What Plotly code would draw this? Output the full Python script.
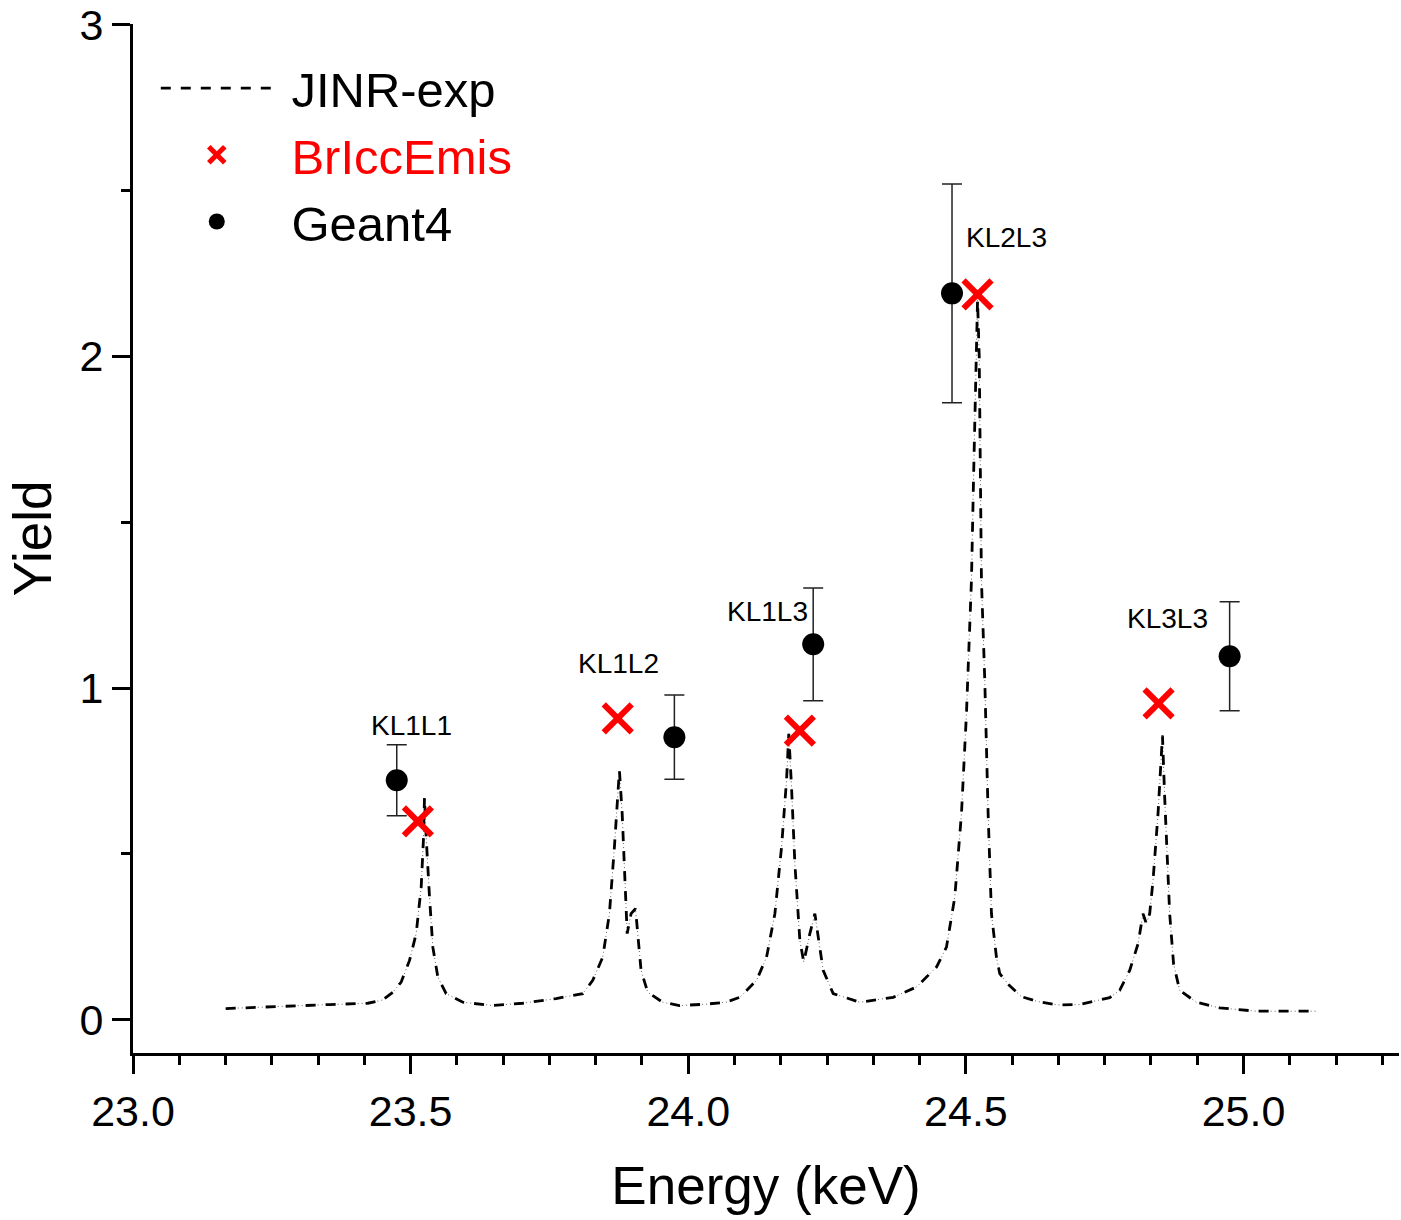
import plotly.graph_objects as go

# ---------------- data ----------------
exp_energy = [23.167, 23.22, 23.286, 23.354, 23.423, 23.450, 23.468, 23.483, 23.498, 23.510,
              23.519, 23.523, 23.525, 23.528, 23.534, 23.540, 23.549, 23.564, 23.594, 23.648,
              23.702, 23.762, 23.810, 23.828, 23.846, 23.858, 23.867, 23.872, 23.876, 23.881,
              23.885, 23.890, 23.897, 23.905, 23.909, 23.915, 23.927, 23.954, 23.984, 24.030,
              24.068, 24.093, 24.123, 24.141, 24.156, 24.168, 24.177, 24.181, 24.186, 24.192,
              24.201, 24.208, 24.219, 24.228, 24.235, 24.243, 24.261, 24.309, 24.369, 24.411,
              24.447, 24.465, 24.480, 24.492, 24.501, 24.507, 24.510, 24.514, 24.518, 24.521,
              24.524, 24.526, 24.528, 24.534, 24.540, 24.546, 24.555, 24.561, 24.578, 24.600,
              24.630, 24.665, 24.705, 24.759, 24.777, 24.795, 24.810, 24.819, 24.825, 24.831,
              24.837, 24.846, 24.851, 24.854, 24.858, 24.862, 24.867, 24.874, 24.885, 24.915,
              24.957, 25.023, 25.131]
exp_yield = [0.034, 0.038, 0.043, 0.046, 0.050, 0.060, 0.083, 0.114, 0.179, 0.26,
             0.40, 0.541, 0.671, 0.551, 0.37, 0.219, 0.129, 0.079, 0.053, 0.043,
             0.050, 0.064, 0.079, 0.119, 0.189, 0.32, 0.521, 0.671, 0.752, 0.621,
             0.471, 0.26, 0.32, 0.335, 0.26, 0.149, 0.083, 0.053, 0.043, 0.047,
             0.053, 0.068, 0.119, 0.189, 0.32, 0.521, 0.722, 0.862, 0.70, 0.471,
             0.239, 0.174, 0.26, 0.32, 0.239, 0.149, 0.079, 0.053, 0.068, 0.099,
             0.159, 0.219, 0.37, 0.621, 0.923, 1.224, 1.325, 1.65, 1.95, 2.17,
             2.0, 1.7, 1.325, 1.024, 0.623, 0.32, 0.189, 0.139, 0.104, 0.070,
             0.055, 0.045, 0.046, 0.067, 0.089, 0.149, 0.229, 0.32, 0.29, 0.32,
             0.42, 0.621, 0.772, 0.857, 0.671, 0.521, 0.32, 0.169, 0.089, 0.053,
             0.036, 0.026, 0.026]

bricc_energy = [23.513, 23.873, 24.201, 24.521, 24.847]
bricc_yield = [0.598, 0.909, 0.872, 2.187, 0.954]

geant_energy = [23.475, 23.975, 24.225, 24.475, 24.975]
geant_yield = [0.722, 0.852, 1.132, 2.190, 1.096]
geant_err = [0.107, 0.127, 0.170, 0.330, 0.164]

label_text = ["KL1L1", "KL1L2", "KL1L3", "KL2L3", "KL3L3"]
label_energy = [23.502, 23.875, 24.143, 24.573, 24.863]
label_yield = [0.888, 1.075, 1.231, 2.359, 1.210]

x_tick_vals = [23.0, 23.5, 24.0, 24.5, 25.0]
x_tick_text = ["23.0", "23.5", "24.0", "24.5", "25.0"]
y_tick_vals = [0, 1, 2, 3]
y_tick_text = ["0", "1", "2", "3"]

FONT = "Liberation Sans, Arial, sans-serif"

fig = go.Figure()

# faint dotted underlay (not in legend)
fig.add_trace(go.Scatter(
    x=exp_energy, y=exp_yield, mode="lines", showlegend=False, hoverinfo="skip",
    line=dict(color="rgba(60,60,60,0.8)", width=1, dash="1px,3px")))

fig.add_trace(go.Scatter(
    x=exp_energy, y=exp_yield, mode="lines", name="&nbsp;JINR-exp",
    line=dict(color="black", width=2.8, dash="10px,10px")))

fig.add_trace(go.Scatter(
    x=bricc_energy, y=bricc_yield, mode="markers",
    name="&nbsp;<span style='color:#ff0000'>BrIccEmis</span>",
    marker=dict(symbol="x-thin", size=28, color="#ff0000",
                line=dict(color="#ff0000", width=6))))

fig.add_trace(go.Scatter(
    x=geant_energy, y=geant_yield, mode="markers", name="&nbsp;Geant4",
    marker=dict(symbol="circle", size=22, color="black"),
    error_y=dict(type="data", array=geant_err, visible=True,
                 color="#222222", thickness=1.5, width=10)))

for t, ex, ey in zip(label_text, label_energy, label_yield):
    fig.add_annotation(x=ex, y=ey, text=t, showarrow=False,
                       font=dict(family=FONT, size=28, color="black"))

fig.update_layout(
    width=1401, height=1220, autosize=False,
    margin=dict(l=133, r=2, t=24, b=167),
    paper_bgcolor="white", plot_bgcolor="white",
    font=dict(family=FONT, color="black"),
    showlegend=True,
    legend=dict(x=0.018, y=0.975, xanchor="left", yanchor="top",
                bgcolor="rgba(0,0,0,0)", itemwidth=112,
                font=dict(family=FONT, size=49, color="black"),
                tracegroupgap=0),
)

fig.update_xaxes(
    range=[23.0, 25.28], showgrid=False, zeroline=False,
    showline=True, linecolor="black", linewidth=3,
    tickmode="array", tickvals=x_tick_vals, ticktext=x_tick_text,
    ticks="outside", ticklen=18, tickwidth=3, tickcolor="black",
    tickfont=dict(family=FONT, size=43, color="black"),
    minor=dict(dtick=0.5 / 6, tick0=23.0, ticks="outside", ticklen=9,
               tickwidth=3, tickcolor="black", showgrid=False),
    title=dict(text="Energy (keV)", font=dict(family=FONT, size=53, color="black"),
               standoff=34),
)
fig.update_yaxes(
    range=[-0.1, 3.002], showgrid=False, zeroline=False,
    showline=True, linecolor="black", linewidth=3,
    tickmode="array", tickvals=y_tick_vals, ticktext=y_tick_text,
    ticks="outside", ticklen=18, tickwidth=3, tickcolor="black",
    tickfont=dict(family=FONT, size=43, color="black"),
    minor=dict(dtick=0.5, tick0=0, ticks="outside", ticklen=9,
               tickwidth=3, tickcolor="black", showgrid=False),
    title=dict(text="Yield", font=dict(family=FONT, size=53, color="black"),
               standoff=11),
)

fig.write_html("out.html", config={"displayModeBar": False},
               post_script="document.body.style.margin='0';")
